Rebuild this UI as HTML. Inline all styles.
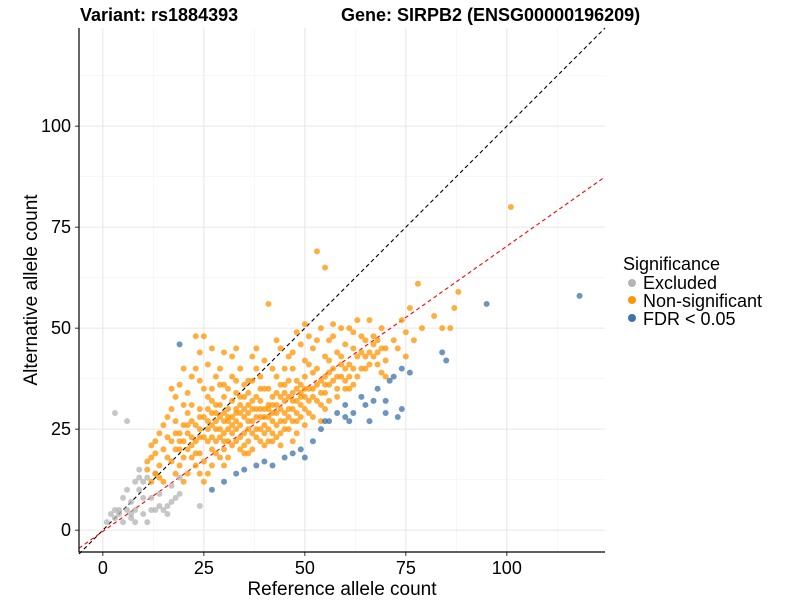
<!DOCTYPE html>
<html><head><meta charset="utf-8"><style>
body{margin:0;background:#fff;font-family:"Liberation Sans",Arial,sans-serif}
</style></head><body>
<svg id="chart" width="800" height="600" xmlns="http://www.w3.org/2000/svg" font-family="Liberation Sans, Arial, sans-serif">
<g id="grid"></g>
<g id="lines"></g>
<g id="points"></g>
<g id="axes"></g>
<text x="80" y="21" font-size="18" font-weight="bold">Variant: rs1884393</text>
<text x="341" y="21" font-size="18" font-weight="bold">Gene: SIRPB2 (ENSG00000196209)</text>
<text x="342" y="595" font-size="19" text-anchor="middle">Reference allele count</text>
<text transform="translate(37,290) rotate(-90)" font-size="19" text-anchor="middle">Alternative allele count</text>
<g>
<text x="623" y="270" font-size="18">Significance</text>
<circle cx="632" cy="283" r="4" fill="#b3b3b3"/><text x="643" y="289" font-size="18">Excluded</text>
<circle cx="632" cy="300" r="4" fill="#ff9400"/><text x="643" y="307" font-size="18">Non-significant</text>
<circle cx="632" cy="318" r="4" fill="#3e72a8"/><text x="643" y="325" font-size="18">FDR &lt; 0.05</text>
</g>
</svg>
<script>
const xTicks=[0,25,50,75,100];
const yTicks=[0,25,50,75,100];
const excluded=[[2,4],[3,5],[4,5],[3,29],[6,27],[5,2],[7,3],[7,4],[8,12],[9,13],[10,12],[9,10],[6,10],[8,5],[10,4],[11,2],[12,5],[13,5],[14,6],[15,5],[16,6],[17,7],[18,8],[10,8],[12,8],[14,9],[16,4],[19,9],[24,6],[9,15],[11,13],[13,14],[7,7],[3,3],[4,4],[1,2],[5,8],[6,5],[8,2],[19,13],[17,11]];
const nonsig=[[11,17],[12,18],[13,19],[14,16],[12,21],[13,22],[14,24],[15,20],[15,26],[11,15],[13,14],[14,13],[15,12],[12,12],
[16,18],[17,22],[18,20],[19,24],[20,26],[16,28],[17,30],[18,33],[19,16],[20,18],[18,14],[20,12],[19,20],[17,17],[16,23],[20,22],[18,27],[20,31],[19,36],[20,40],[17,35],
[21,24],[22,27],[23,22],[24,30],[25,28],[21,20],[22,18],[23,16],[24,14],[25,17],[21,34],[22,38],[23,40],[24,44],[25,48],[23,48],[21,29],[22,31],[24,25],[25,23],[23,26],[25,35],[24,37],[22,23],[21,14],[25,12],[24,19],
[26,22],[27,26],[28,29],[29,31],[30,27],[26,33],[27,35],[28,38],[29,40],[30,44],[27,45],[26,30],[28,22],[29,18],[30,20],[27,16],[26,14],[28,25],[30,33],[29,36],[26,41],[30,24],[28,31],[27,20],[29,28],[30,16],
[31,25],[32,28],[33,30],[34,26],[35,33],[31,35],[32,38],[33,22],[34,20],[35,24],[31,18],[32,43],[34,40],[35,36],[33,34],[31,30],[32,24],[34,29],[35,19],[33,27],[35,28],[31,22],[34,33],[32,32],[33,45],
[36,27],[37,30],[38,33],[39,25],[40,35],[36,22],[37,20],[38,28],[39,38],[40,30],[36,34],[37,37],[38,40],[39,22],[40,26],[36,31],[37,24],[38,23],[40,42],[39,32],[37,43],[41,56],[38,45],[36,19],[40,21],
[41,28],[42,31],[43,34],[44,27],[45,32],[41,35],[42,24],[43,38],[44,30],[45,25],[41,22],[42,40],[43,29],[44,36],[45,40],[42,27],[43,23],[44,45],[45,29],[41,31],[44,21],[43,47],[45,36],
[46,30],[47,34],[48,37],[49,28],[50,33],[46,25],[47,40],[48,29],[49,36],[50,42],[46,37],[47,27],[48,32],[49,46],[50,26],[47,44],[50,38],[48,24],[46,43],[49,31],[50,51],[48,49],[47,22],
[51,35],[52,39],[53,32],[54,37],[55,43],[51,29],[52,45],[53,40],[54,31],[55,34],[51,41],[52,28],[53,47],[54,50],[55,38],[53,69],[55,65],[51,48],[52,33],[54,27],[55,30],
[56,36],[57,40],[58,44],[59,38],[60,46],[56,32],[57,48],[58,35],[59,50],[60,40],[56,42],[58,33],[60,35],[57,51],[59,43],[56,47],
[61,41],[62,45],[63,38],[64,48],[65,43],[61,50],[62,36],[63,52],[64,40],[65,47],[62,49],[61,35],
[66,44],[67,48],[68,41],[69,50],[70,45],[66,52],[68,47],[70,38],[67,43],[69,39],
[72,47],[74,52],[75,43],[76,55],[77,47],[78,61],[79,50],[73,45],[75,49],
[82,53],[84,50],[86,50],[88,59],[87,55],[101,80],
[22,21],[23,19],[24,23],[26,25],[27,23],[28,19],[29,23],[30,22],[31,27],[32,21],[33,25],[34,23],[35,21],[36,25],[37,27],[38,25],[39,28],[40,24],[41,25],[42,22],[43,26],[44,24],[45,27],[46,28],[47,30],[48,27],[49,33],[50,30],[51,32],[52,35],[53,36],[54,34],[55,36],[56,39],[57,37],[58,38],[59,41],[60,37],[61,38],[62,40],[63,43],[64,44],[65,40],[66,41],[67,46],[68,44],[69,45],[70,42],
[26,27],[27,29],[28,27],[29,25],[30,29],[31,28],[32,26],[33,29],[34,31],[35,30],[36,29],[37,32],[38,30],[39,30],[40,28],[41,30],[42,33],[43,31],[44,33],[45,34],[46,33],[47,32],[48,35],[49,34],[50,35],[42,29],[39,35],[36,37],[33,37],[30,36],[27,32],[24,28],[21,26],[19,22],[18,24]];
const fdr=[[19,46],[30,12],[27,10],[33,14],[35,15],[38,16],[40,17],[42,16],[45,18],[47,19],[50,18],[49,20],[52,22],[54,25],[55,27],[56,27],[58,29],[60,28],[61,27],[62,29],[64,33],[65,31],[67,32],[68,35],[70,32],[71,37],[72,38],[74,40],[73,28],[74,30],[76,39],[84,44],[85,42],[95,56],[118,58],[70,29],[66,27],[60,31]];
const xMin=-5.9,xMax=124.3,yMin=-5.4,yMax=124.3;
const L=79,R=605,T=28,B=552;
const sx=v=>L+(v-xMin)/(xMax-xMin)*(R-L);
const sy=v=>B-(v-yMin)/(yMax-yMin)*(B-T);
const NS="http://www.w3.org/2000/svg";
function mk(tag,attrs,parent){const e=document.createElementNS(NS,tag);for(const k in attrs)e.setAttribute(k,attrs[k]);parent.appendChild(e);return e;}
const grid=document.getElementById('grid'),axes=document.getElementById('axes'),pts=document.getElementById('points'),lines=document.getElementById('lines');
for(let i=0;i<xTicks.length;i++){
  const mx=xTicks[i]+12.5, my=yTicks[i]+12.5;
  const a=mk('line',{x1:sx(mx),x2:sx(mx),y1:T,y2:B,stroke:'#f2f2f2','stroke-width':0.6},grid);
  
  
  const b=mk('line',{x1:L,x2:R,y1:sy(my),y2:sy(my),stroke:'#f2f2f2','stroke-width':0.6},grid);
  
  
}
xTicks.forEach(t=>{
  const g=mk('line',{x1:sx(t),x2:sx(t),y1:T,y2:B,stroke:'#e6e6e6','stroke-width':1},grid);
  
  
  const tk=mk('line',{x1:sx(t),x2:sx(t),y1:B,y2:B+4,stroke:'#333','stroke-width':1},axes);
  
  
  const tx=mk('text',{x:sx(t),y:B+22,'font-size':18,'text-anchor':'middle',fill:'#000'},axes);
  
  
  tx.textContent=t;
});
yTicks.forEach(t=>{
  const g=mk('line',{x1:L,x2:R,y1:sy(t),y2:sy(t),stroke:'#e6e6e6','stroke-width':1},grid);
  
  
  const tk=mk('line',{x1:L-4,x2:L,y1:sy(t),y2:sy(t),stroke:'#333','stroke-width':1},axes);
  
  
  const tx=mk('text',{x:L-8,y:sy(t)+6,'font-size':18,'text-anchor':'end',fill:'#000'},axes);
  
  
  tx.textContent=t;
});
const ax=mk('path',{d:`M${L},${T}V${B}H${R}`,fill:'none',stroke:'#000','stroke-width':1.2},axes);


function addPts(arr,col,name){arr.forEach(p=>{
  const c=mk('circle',{cx:sx(p[0]),cy:sy(p[1]),r:3,fill:col,'fill-opacity':0.75},pts);
  
  
});}
addPts(excluded,'#b3b3b3','point-excluded');
addPts(nonsig,'#ff9400','point-nonsignificant');
addPts(fdr,'#3e72a8','point-fdr');
const id=mk('line',{x1:sx(xMin),y1:sy(xMin),x2:sx(yMax),y2:sy(yMax),stroke:'#000','stroke-width':1.1,'stroke-dasharray':'4,3'},lines);


const slope=0.706,icpt=-0.3;
const rl=mk('line',{x1:sx(xMin),y1:sy(slope*xMin+icpt),x2:sx(xMax),y2:sy(slope*xMax+icpt),stroke:'#ff0000','stroke-width':1.1,'stroke-dasharray':'4,3'},lines);


</script>
</body></html>
